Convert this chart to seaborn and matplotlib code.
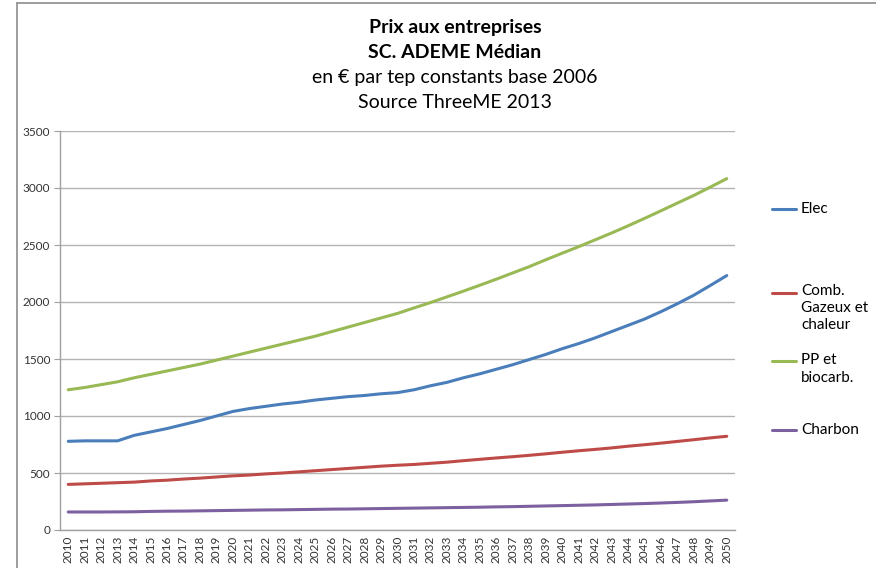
import matplotlib
matplotlib.use("Agg")
import matplotlib.pyplot as plt
from matplotlib.lines import Line2D
import seaborn as sns
import pandas as pd

years = list(range(2010, 2051))

elec = [778, 782, 782, 782, 830, 860, 890, 925, 960, 1000,
        1040, 1065, 1085, 1105, 1120, 1140, 1155, 1170, 1180, 1195,
        1205, 1230, 1265, 1295, 1335, 1370, 1410, 1450, 1495, 1540,
        1590, 1635, 1685, 1740, 1795, 1850, 1915, 1985, 2060, 2145,
        2232]
comb = [400, 405, 410, 415, 420, 430, 437, 447, 455, 465,
        475, 482, 492, 500, 510, 520, 530, 540, 550, 560,
        568, 575, 585, 595, 608, 620, 632, 643, 655, 668,
        682, 695, 707, 720, 735, 748, 762, 777, 792, 808,
        822]
pp = [1230, 1250, 1275, 1300, 1335, 1365, 1395, 1425, 1455, 1490,
      1525, 1560, 1595, 1630, 1665, 1700, 1740, 1780, 1820, 1860,
      1900, 1948, 1995, 2045, 2095, 2147, 2200, 2255, 2310, 2370,
      2428, 2485, 2545, 2605, 2668, 2733, 2800, 2868, 2935, 3008,
      3082]
charbon = [158, 158, 158, 159, 160, 163, 165, 166, 168, 170,
           172, 174, 176, 177, 179, 181, 183, 184, 186, 188,
           190, 192, 194, 196, 198, 200, 203, 205, 208, 211,
           214, 217, 220, 224, 228, 232, 237, 242, 248, 255,
           262]

series_names = ["Elec", "Comb.\nGazeux et\nchaleur", "PP et\nbiocarb.", "Charbon"]
series_values = [elec, comb, pp, charbon]
colors = ["#4A7EBB", "#BE4B48", "#98B954", "#7D60A0"]

title_lines = ["Prix aux entreprises", "SC. ADEME Médian",
               "en € par tep constants base 2006", "Source ThreeME 2013"]

rows = []
for name, vals in zip(series_names, series_values):
    for i, v in enumerate(vals):
        rows.append({"idx": i, "year": years[i], "serie": name, "value": v})
df = pd.DataFrame(rows)

sns.set_style("white")
plt.rcParams["font.family"] = ["Lato", "DejaVu Sans"]

W, H = 876, 568
fig = plt.figure(figsize=(W / 100, H / 100), dpi=100)
ax = fig.add_axes([60 / W, 1 - 530 / H, (735 - 60) / W, (530 - 131) / H])

sns.lineplot(data=df, x="idx", y="value", hue="serie", palette=colors,
             hue_order=series_names, ax=ax, linewidth=2.2, legend=False)

n = len(years)
ax.set_xlim(-0.5, n - 0.5)
ax.set_ylim(0, 3500)
ax.set_yticks(range(0, 3501, 500))
ax.set_yticklabels([str(v) for v in range(0, 3501, 500)], fontsize=8.5,
                   color="#333333")
ax.set_xticks(range(n))
ax.set_xticklabels([str(y) for y in years], rotation=90, fontsize=8.5,
                   color="#333333")
ax.tick_params(axis="x", length=0, pad=4)
# category separator ticks
ax.set_xticks([i - 0.5 for i in range(n + 1)], minor=True)
ax.tick_params(axis="x", which="minor", length=4, color="#A0A0A0", width=0.8)
ax.tick_params(axis="y", length=4, color="#A0A0A0", width=0.8, pad=3,
               left=True)
ax.set_xlabel("")
ax.set_ylabel("")
ax.grid(axis="y", color="#B3B3B3", linewidth=1)
ax.set_axisbelow(True)
for s in ["top", "right"]:
    ax.spines[s].set_visible(False)
for s in ["left", "bottom"]:
    ax.spines[s].set_color("#A0A0A0")
    ax.spines[s].set_linewidth(1)

# titles
ys = [27, 52, 77, 102]
for i, (t, yy) in enumerate(zip(title_lines, ys)):
    fig.text(455 / W, 1 - yy / H, t, ha="center", va="center",
             fontsize=14, fontweight="bold" if i < 2 else "normal",
             color="black")

# legend (manual, Excel-like placement)
leg_y = [209, 308, 369, 430]
for name, c, yy, first_y in zip(series_names, colors, leg_y,
                               [209, 293, 361, 430]):
    fig.add_artist(Line2D([772 / W, 796 / W], [1 - first_y / H, 1 - first_y / H],
                          color=c, linewidth=2.2, transform=fig.transFigure))
    fig.text(801 / W, 1 - yy / H, name, ha="left", va="center", fontsize=11,
             color="black", linespacing=1.3)

# chart border (top and left visible)
fig.add_artist(Line2D([17 / W, 1.0], [1 - 3 / H, 1 - 3 / H], color="#8C8C8C",
                      linewidth=1.2, transform=fig.transFigure))
fig.add_artist(Line2D([17 / W, 17 / W], [1 - 3 / H, 0], color="#8C8C8C",
                      linewidth=1.2, transform=fig.transFigure))

fig.savefig("out.png", dpi=100)
